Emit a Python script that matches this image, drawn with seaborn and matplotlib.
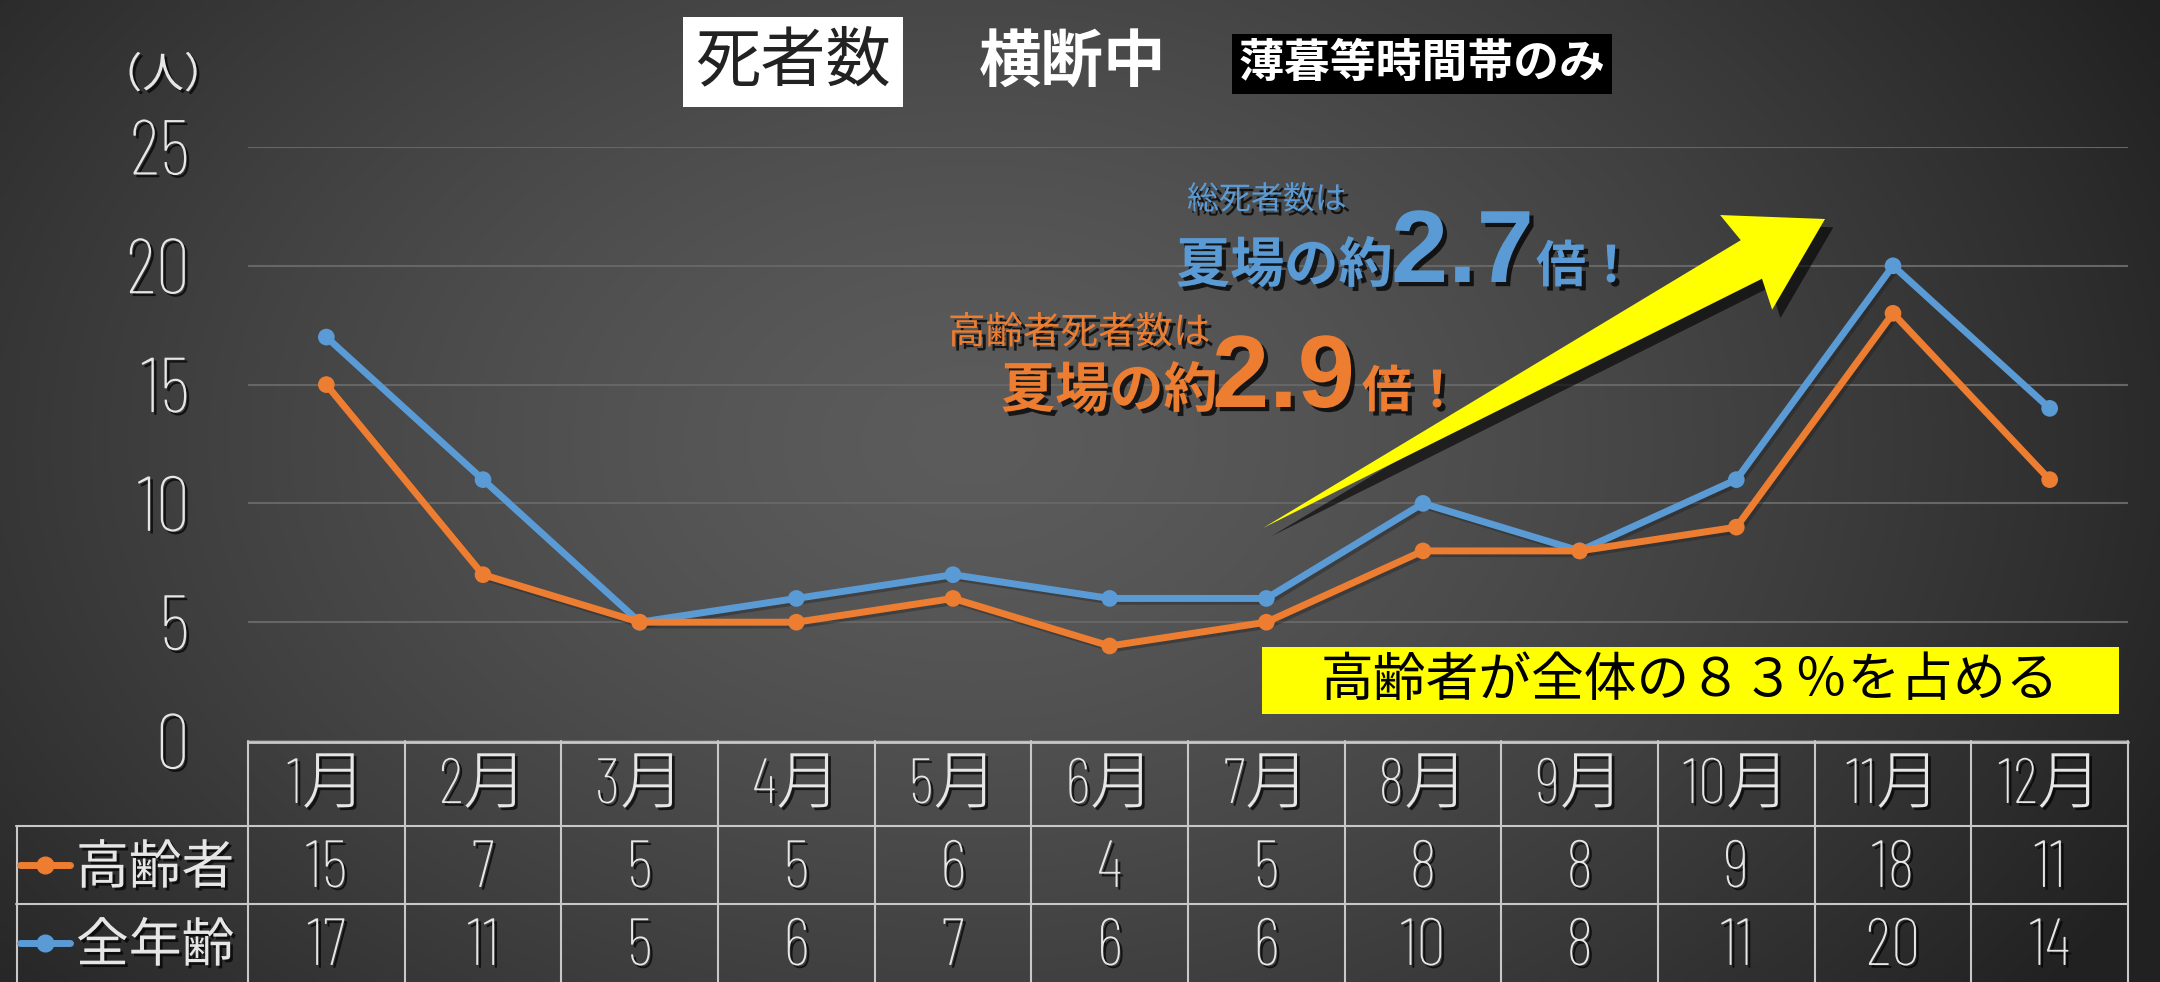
import numpy as np
import pandas as pd
import seaborn as sns
import matplotlib.pyplot as plt
import matplotlib.patheffects as pe
from matplotlib.patches import Rectangle, Polygon

# data
months = ['1月', '2月', '3月', '4月', '5月', '6月', '7月', '8月', '9月', '10月', '11月', '12月']
elderly = [15, 7, 5, 5, 6, 4, 5, 8, 8, 9, 18, 11]
all_ages = [17, 11, 5, 6, 7, 6, 6, 10, 8, 11, 20, 14]
series_names = ['高齢者', '全年齢']
yticks = [0, 5, 10, 15, 20, 25]

ORANGE = '#ED7D31'
BLUE = '#5B9BD5'
LIGHT = '#e6e6e6'

sns.set_theme(style='dark')
NARROW = ['Barlow Condensed', 'Noto Sans CJK JP', 'DejaVu Sans']
CJK = ['Noto Sans CJK JP', 'DejaVu Sans']
plt.rcParams['font.family'] = CJK

W, H = 2160, 982
def fx(x):
    return x / W
def fy(y):
    return 1 - y / H

shadow = [pe.SimplePatchShadow(offset=(2, -2), shadow_rgbFace='black', alpha=0.7), pe.Normal()]

fig = plt.figure(figsize=(W / 100, H / 100), dpi=100)

# background radial gradient
bg = fig.add_axes([0, 0, 1, 1], zorder=-10)
gx, gy = np.meshgrid(np.linspace(0, 1, 432), np.linspace(0, 1, 196))
r = np.sqrt(((gx - 0.45) / 0.62) ** 2 + ((gy - 0.45) / 0.95) ** 2)
shade = 0.36 - 0.23 * np.clip(r, 0, 1) ** 1.4
bg.imshow(np.dstack([shade, shade, shade]), aspect='auto', extent=[0, 1, 0, 1], interpolation='bicubic')
bg.set_axis_off()

# main chart
ax = fig.add_axes([fx(248), fy(741), (2128 - 248) / W, (741 - 147) / H])
ax.set_facecolor('none')
df = pd.DataFrame({
    'x': list(range(12)) * 2,
    'value': elderly + all_ages,
    'series': [series_names[0]] * 12 + [series_names[1]] * 12,
})
sns.lineplot(data=df, x='x', y='value', hue='series', hue_order=series_names[::-1],
             palette={series_names[0]: ORANGE, series_names[1]: BLUE},
             marker='o', markersize=12, markeredgewidth=0, linewidth=5,
             legend=False, sort=False, ax=ax)
for ln in ax.lines:
    ln.set_path_effects([pe.SimpleLineShadow(offset=(2, -2), alpha=0.35), pe.Normal()])
ax.set_xlim(-0.5, 11.5)
ax.set_ylim(0, 25)
ax.set_yticks(yticks)
ax.set_yticklabels([str(v) for v in yticks], family=NARROW, fontsize=56, color=LIGHT,
                   fontweight='light')
for t in ax.get_yticklabels():
    t.set_path_effects(shadow)
ax.tick_params(axis='y', length=0, pad=42)
ax.set_xticks([])
ax.set_xlabel('')
ax.set_ylabel('')
ax.grid(axis='y', color='#666666', linewidth=1.5)
ax.grid(axis='x', visible=False)
for s in ax.spines.values():
    s.set_visible(False)

# data table under the chart
tab = fig.add_axes([fx(16), 0, (2128 - 16) / W, (982 - 741) / H])
tab.set_facecolor('none')
colw = 156.667
x0 = -0.5 - (248 - 16) / colw
tab.set_xlim(x0, 11.5)
tab.set_ylim(241, 0)
tab.set_axis_off()
lc = '#c8c8c8'
tab.plot([-0.5, 11.5], [1, 1], color=lc, lw=2, clip_on=False)
for yb in [85, 163]:
    tab.plot([x0, 11.5], [yb, yb], color=lc, lw=1.5, clip_on=False)
for k in range(13):
    tab.plot([k - 0.5, k - 0.5], [0, 241], color=lc, lw=1.5, clip_on=False)
tab.plot([x0 + 0.005, x0 + 0.005], [85, 241], color=lc, lw=1.5, clip_on=False)

for i, m in enumerate(months):
    tab.text(i, 46, m, ha='center', va='center', fontsize=46, color=LIGHT,
             family=NARROW, fontweight='light', path_effects=shadow)
for i, (a, b) in enumerate(zip(elderly, all_ages)):
    tab.text(i, 129, str(a), ha='center', va='center', fontsize=48, color=LIGHT,
             family=NARROW, fontweight='light', path_effects=shadow)
    tab.text(i, 207, str(b), ha='center', va='center', fontsize=48, color=LIGHT,
             family=NARROW, fontweight='light', path_effects=shadow)

for name, color, yc in [(series_names[0], ORANGE, 124), (series_names[1], BLUE, 202)]:
    kx = [x0 + 4 / colw, x0 + 54 / colw]
    tab.plot(kx, [yc, yc], color=color, lw=5, solid_capstyle='round')
    tab.plot([np.mean(kx)], [yc], 'o', color=color, markersize=12)
    tab.text(x0 + 60 / colw, yc + 3, name, ha='left', va='center', fontsize=38,
             color=LIGHT, path_effects=shadow)

# titles
fig.text(fx(793), fy(62), '死者数', ha='center', va='center', fontsize=47, color='#222222',
         bbox=dict(boxstyle='square,pad=0.18', fc='white', ec='none'))
fig.text(fx(1072), fy(62), '横断中', ha='center', va='center', fontsize=45,
         color='white', fontweight='bold')
fig.text(fx(1422), fy(64), '薄暮等時間帯のみ', ha='center', va='center', fontsize=33,
         color='white', fontweight='bold',
         bbox=dict(boxstyle='square,pad=0.15', fc='black', ec='none'))
fig.text(fx(163), fy(76), '（人）', ha='center', va='center', fontsize=30,
         color=LIGHT, path_effects=shadow)

# yellow arrow
tail = np.array([1263.0, 528.0])
tip = np.array([1825.0, 219.0])
d = tip - tail
u = d / np.linalg.norm(d)
n = np.array([-u[1], u[0]])
base = tip - u * 84
pts = [tail, base + n * 22, base + n * 54 - u * 6, tip, base - n * 54 - u * 6, base - n * 22]
arrow = Polygon([(fx(p[0]), fy(p[1])) for p in pts], closed=True, transform=fig.transFigure,
                fc='#FFFF00', ec='none', zorder=5,
                path_effects=[pe.SimplePatchShadow(offset=(6, -6), shadow_rgbFace='black', alpha=0.6), pe.Normal()])
fig.patches.append(arrow)

# annotations
ann_shadow = [pe.SimplePatchShadow(offset=(3, -3), shadow_rgbFace='black', alpha=0.75), pe.Normal()]
fig.text(fx(1187), fy(200), '総死者数は', ha='left', va='center', fontsize=23, color=BLUE,
         path_effects=ann_shadow)
fig.text(fx(1176), fy(282), '夏場の約', ha='left', va='baseline', fontsize=39, color=BLUE,
         fontweight='bold', path_effects=ann_shadow)
fig.text(fx(1391), fy(282), '2.7', ha='left', va='baseline', fontsize=74, color=BLUE,
         fontweight='bold', family=['Liberation Sans', 'DejaVu Sans'], path_effects=ann_shadow)
fig.text(fx(1536), fy(282), '倍！', ha='left', va='baseline', fontsize=36, color=BLUE,
         fontweight='bold', path_effects=ann_shadow)

fig.text(fx(948), fy(333), '高齢者死者数は', ha='left', va='center', fontsize=27, color=ORANGE,
         path_effects=ann_shadow)
fig.text(fx(1001), fy(407), '夏場の約', ha='left', va='baseline', fontsize=39, color=ORANGE,
         fontweight='bold', path_effects=ann_shadow)
fig.text(fx(1212), fy(407), '2.9', ha='left', va='baseline', fontsize=74, color=ORANGE,
         fontweight='bold', family=['Liberation Sans', 'DejaVu Sans'], path_effects=ann_shadow)
fig.text(fx(1362), fy(407), '倍！', ha='left', va='baseline', fontsize=36, color=ORANGE,
         fontweight='bold', path_effects=ann_shadow)

# yellow note box
fig.patches.append(Rectangle((fx(1262), fy(714)), (2119 - 1262) / W, (714 - 647) / H,
                             transform=fig.transFigure, fc='#FFFF00', ec='none', zorder=5))
fig.text(fx(1690), fy(681), '高齢者が全体の８３％を占める', ha='center', va='center',
         fontsize=38, color='black', zorder=6)

fig.savefig('out.png', dpi=100)
